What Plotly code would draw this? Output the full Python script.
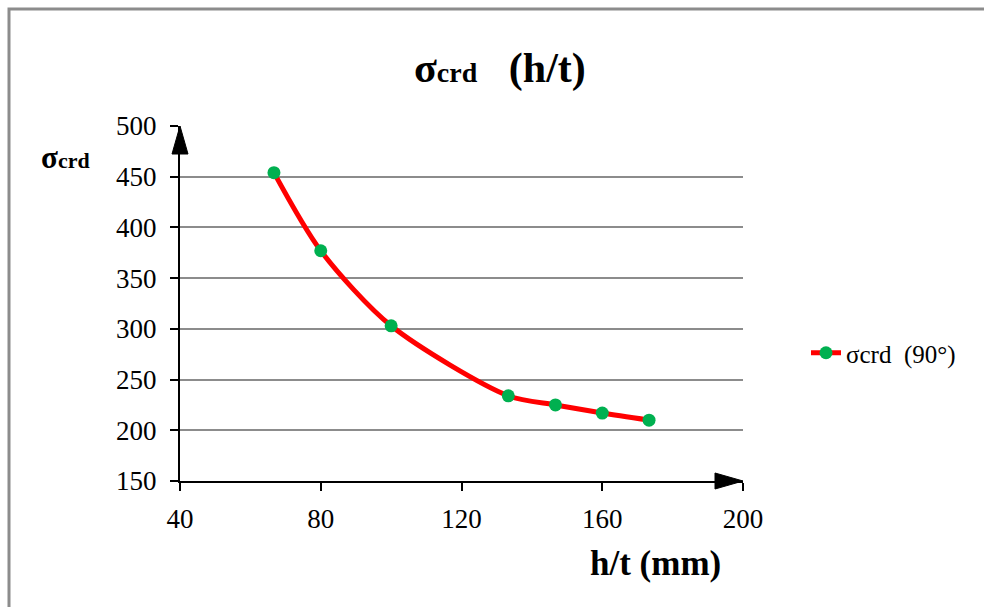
import plotly.graph_objects as go

# Critical stress versus slenderness ratio h/t (angle 90°)
ht_ratio = [66.7, 80, 100, 133.3, 146.7, 160, 173.3]
sigma_crd = [454, 377, 303, 234, 225, 217, 210]
series_name = "σcrd\u00a0\u00a0(90°)"

x_ticks = [40, 80, 120, 160, 200]
y_ticks = [150, 200, 250, 300, 350, 400, 450, 500]

FONT = "Liberation Serif"
W, H = 984, 607
L, R, T, B = 180, 241, 126, 126
pw, ph = W - L - R, H - T - B

def px_x(p):
    return (p - L) / pw

def px_y(p):
    return (H - B - p) / ph

fig = go.Figure()
fig.add_trace(go.Scatter(
    x=ht_ratio, y=sigma_crd, name=series_name,
    mode="lines+markers",
    line=dict(color="#FF0000", width=5, shape="spline", smoothing=0.8),
    marker=dict(color="#00B050", size=13),
))

# arrow heads on the axes
ax_len, ax_half = 28, 8
shapes = [
    dict(type="path", xref="paper", yref="paper",
         path=f"M 1,0 L {1 - ax_len / pw},{ax_half / ph} L {1 - ax_len / pw},{-ax_half / ph} Z",
         fillcolor="black", line=dict(color="black", width=1)),
    dict(type="path", xref="paper", yref="paper",
         path=f"M 0,1 L {ax_half / pw},{1 - ax_len / ph} L {-ax_half / pw},{1 - ax_len / ph} Z",
         fillcolor="black", line=dict(color="black", width=1)),
    # chart border
    dict(type="rect", xref="paper", yref="paper",
         x0=px_x(9), x1=px_x(W + 20), y0=px_y(H + 20), y1=px_y(9),
         line=dict(color="#8c8c8c", width=3), layer="below"),
]

annotations = [
    dict(xref="paper", yref="paper", x=px_x(500), y=px_y(68),
         text="<b>σ<span style='font-size:28px'>crd</span>\u00a0\u00a0\u00a0(h/t)</b>",
         showarrow=False, xanchor="center", yanchor="middle",
         font=dict(family=FONT, size=42, color="black")),
    dict(xref="paper", yref="paper", x=px_x(39), y=px_y(157),
         text="<b>σ<span style='font-size:22px'>crd</span></b>",
         showarrow=False, xanchor="left", yanchor="middle",
         font=dict(family=FONT, size=31, color="black")),
    dict(xref="paper", yref="paper", x=px_x(655), y=px_y(563),
         text="<b>h/t (mm)</b>",
         showarrow=False, xanchor="center", yanchor="middle",
         font=dict(family=FONT, size=35, color="black")),
]

fig.update_layout(
    width=W, height=H,
    margin=dict(l=L, r=R, t=T, b=B),
    paper_bgcolor="white", plot_bgcolor="white",
    font=dict(family=FONT, size=27, color="black"),
    shapes=shapes, annotations=annotations,
    showlegend=True,
    legend=dict(x=px_x(806), y=px_y(353), xanchor="left", yanchor="middle",
                font=dict(family=FONT, size=25, color="black"),
                bgcolor="rgba(0,0,0,0)"),
)
fig.update_xaxes(range=[40, 200], tickvals=x_ticks, showgrid=False,
                 showline=True, linecolor="black", linewidth=2,
                 ticks="outside", ticklen=8, tickcolor="black", tickwidth=1.5,
                 zeroline=False, ticklabelstandoff=5)
fig.update_yaxes(range=[150, 500], tickvals=y_ticks, showgrid=True,
                 gridcolor="#8c8c8c", gridwidth=1.5,
                 showline=True, linecolor="black", linewidth=2,
                 ticks="outside", ticklen=8, tickcolor="black", tickwidth=1.5,
                 zeroline=False, ticklabelstandoff=8)

fig.write_html("out.html")
